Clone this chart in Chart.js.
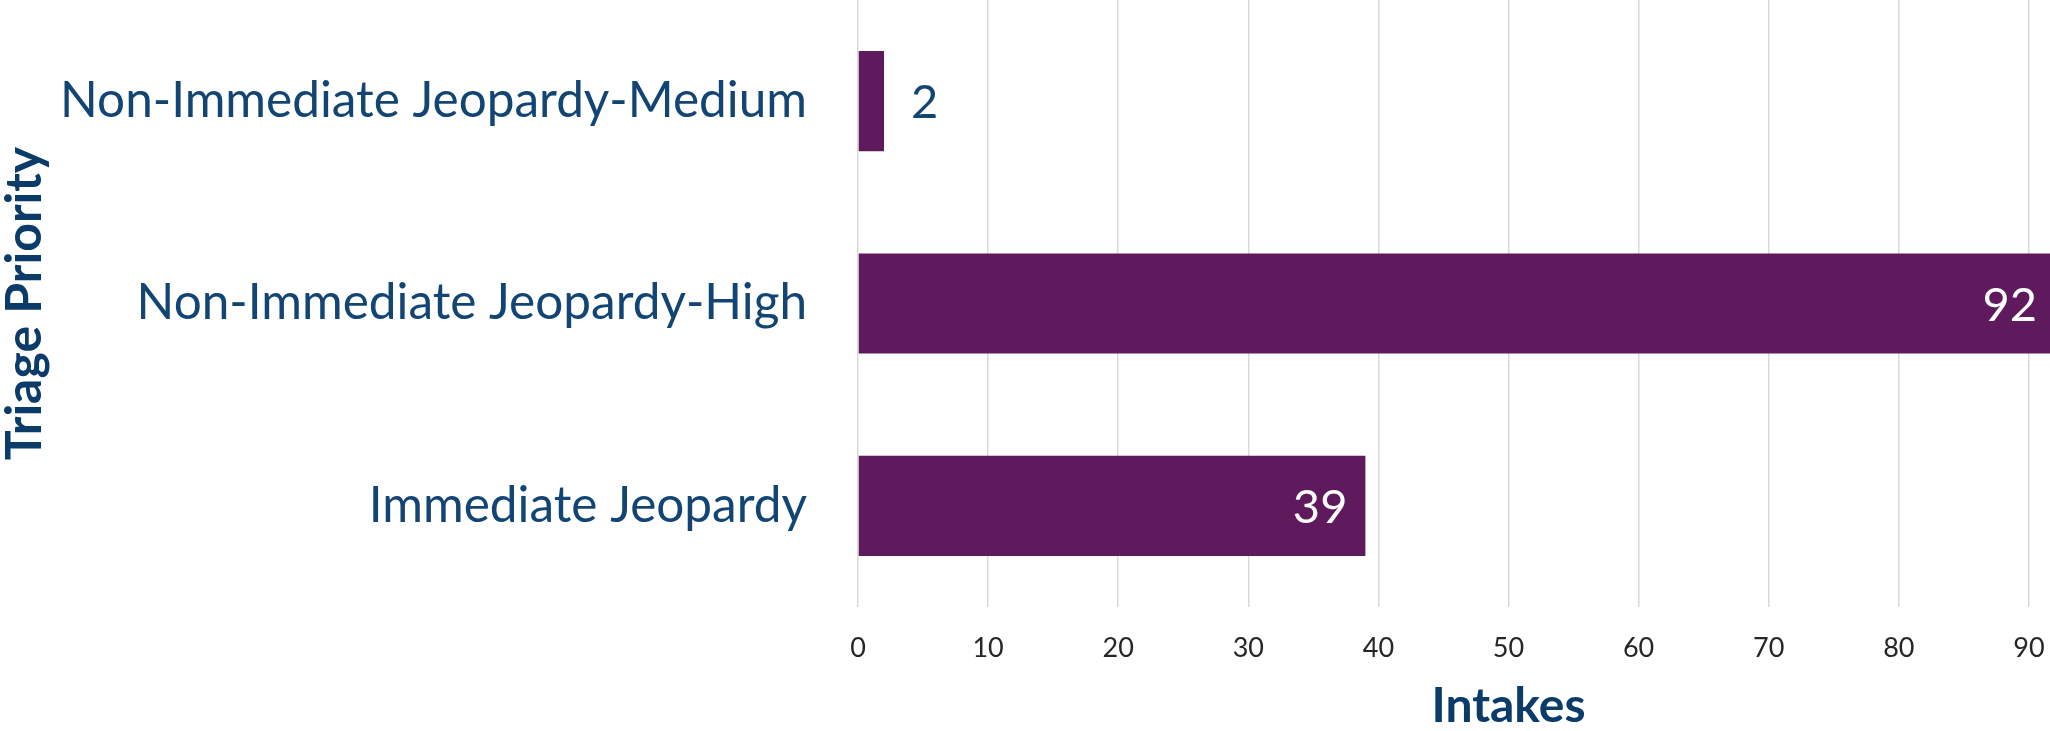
<!DOCTYPE html>
<html><head><meta charset="utf-8">
<script src="https://cdn.jsdelivr.net/npm/chart.js@4/dist/chart.umd.min.js"></script>
<style>
html,body{margin:0;padding:0;overflow:hidden;background:#fff;width:2050px;height:731px}
#wrap{position:absolute;left:0;top:0;width:2159px;height:731px}
</style></head>
<body><div id="wrap"><canvas id="c" width="2159" height="731"></canvas></div>
<script>
const categories = ['Non-Immediate Jeopardy-Medium', 'Non-Immediate Jeopardy-High', 'Immediate Jeopardy'];
const intakes = [2, 92, 39];
const xTickValues = [0, 10, 20, 30, 40, 50, 60, 70, 80, 90, 100];
const xTitle = 'Intakes';
const yTitle = 'Triage Priority';

const NAVY = '#134574';
const TITLE_NAVY = '#0B3B69';
const BAR = '#5E1A5D';
const FONT = 'Lato, "Open Sans", sans-serif';

const valueLabels = {
  id: 'valueLabels',
  afterDatasetsDraw(chart) {
    const ctx = chart.ctx;
    const meta = chart.getDatasetMeta(0);
    ctx.save();
    ctx.font = '47px ' + FONT;
    ctx.textBaseline = 'middle';
    meta.data.forEach((bar, i) => {
      const v = chart.data.datasets[0].data[i];
      const txt = String(v);
      const w = ctx.measureText(txt).width;
      const barLen = bar.x - bar.base;
      if (barLen > w + 40) {
        ctx.fillStyle = '#ffffff';
        ctx.textAlign = 'right';
        ctx.fillText(txt, bar.x - 18, bar.y + 2);
      } else {
        ctx.fillStyle = NAVY;
        ctx.textAlign = 'left';
        ctx.fillText(txt, bar.x + 27, bar.y + 2);
      }
    });
    ctx.restore();
  }
};

new Chart(document.getElementById('c'), {
  type: 'bar',
  data: {
    labels: categories,
    datasets: [{
      data: intakes,
      backgroundColor: BAR,
      borderWidth: 0,
      barPercentage: 0.495,
      categoryPercentage: 1.0
    }]
  },
  options: {
    indexAxis: 'y',
    responsive: false,
    animation: false,
    devicePixelRatio: 1,
    layout: { padding: 0 },
    plugins: { legend: { display: false }, tooltip: { enabled: false } },
    scales: {
      x: {
        min: 0, max: 100,
        afterBuildTicks(scale) { scale.ticks = xTickValues.map(v => ({ value: v })); },
        ticks: {
          color: '#262626',
          font: { family: FONT, size: 27 },
          padding: 25,
          maxRotation: 0,
          callback: (v) => (v === 100 ? '' : String(v))
        },
        grid: { color: '#d9d9d9', lineWidth: 1.5, drawTicks: false },
        border: { display: false },
        title: {
          display: true, text: xTitle, color: TITLE_NAVY,
          font: { family: FONT, size: 48, weight: 'bold', lineHeight: 1 },
          padding: { top: 0, bottom: 0 }
        },
        afterFit(scale) { scale.height = 124; scale.paddingLeft = 0; scale.paddingRight = 0; }
      },
      y: {
        ticks: {
          color: NAVY,
          font: { family: FONT, size: 49.5 },
          padding: 51
        },
        grid: { display: false, drawTicks: false },
        border: { display: false },
        title: {
          display: true, text: yTitle, color: TITLE_NAVY,
          font: { family: FONT, size: 50, weight: 'bold', lineHeight: 1 },
          padding: { top: 0, bottom: 0 }
        },
        afterFit(scale) { scale.width = 858; scale.paddingTop = 0; scale.paddingBottom = 0; }
      }
    }
  },
  plugins: [valueLabels]
});
</script>
</body></html>
